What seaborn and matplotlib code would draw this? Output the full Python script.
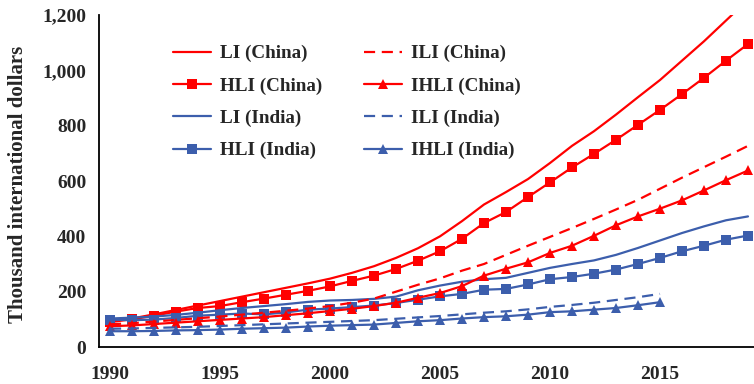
import matplotlib
matplotlib.use("Agg")
import matplotlib.pyplot as plt
import matplotlib.ticker as mticker
import seaborn as sns
import numpy as np

years = list(range(1990, 2020))
years_india_i = list(range(1990, 2016))

li_china = [95, 103, 118, 134, 150, 166, 182, 198, 214, 230, 247, 268, 292, 322, 357,
            400, 455, 515, 560, 607, 665, 727, 780, 840, 903, 965, 1035, 1105, 1180, 1255]
hli_china = [90, 100, 113, 128, 141, 148, 162, 175, 189, 203, 219, 239, 258, 282, 312,
             346, 391, 448, 488, 542, 595, 649, 698, 749, 803, 857, 914, 973, 1035, 1095]
ili_china = [82, 86, 92, 98, 104, 110, 117, 124, 131, 139, 148, 160, 175, 200, 225,
             248, 276, 300, 333, 366, 398, 430, 463, 497, 532, 572, 612, 650, 688, 727]
ihli_china = [75, 78, 83, 88, 93, 98, 103, 108, 115, 122, 130, 138, 148, 160, 178,
              195, 220, 258, 283, 306, 340, 366, 402, 440, 472, 500, 530, 566, 603, 638]

li_india = [103, 106, 110, 116, 124, 133, 141, 148, 155, 163, 168, 170, 174, 182, 205,
            222, 236, 245, 250, 268, 286, 300, 313, 333, 358, 385, 412, 436, 458, 472]
hli_india = [99, 97, 99, 105, 113, 117, 121, 118, 125, 135, 139, 144, 150, 159, 171,
             183, 192, 207, 210, 226, 245, 253, 265, 280, 300, 322, 346, 366, 388, 403]
ili_india = [66, 67, 69, 71, 73, 76, 79, 82, 85, 88, 91, 94, 97, 102, 107,
             112, 118, 124, 129, 136, 145, 152, 160, 170, 180, 192]
ihli_india = [57, 57, 58, 60, 61, 63, 66, 68, 70, 74, 77, 79, 81, 87, 93,
              97, 103, 108, 111, 117, 126, 129, 135, 141, 151, 162]

year_labels = [1990, 1995, 2000, 2005, 2010, 2015]

sns.set_style("white")
plt.rcParams["font.family"] = ["Liberation Serif", "DejaVu Serif"]
plt.rcParams["font.weight"] = "bold"

RED = "#FF0000"
BLUE = "#3C5EAC"
LW = 1.6
DASH = (0, (5, 3))

fig = plt.figure(figsize=(7.54, 3.84), dpi=100)
ax = fig.add_axes([99 / 754, 37 / 384, 660 / 754, 332 / 384])

series = [
    ("LI (China)", years, li_china, RED, None, "-"),
    ("HLI (China)", years, hli_china, RED, "s", "-"),
    ("LI (India)", years, li_india, BLUE, None, "-"),
    ("HLI (India)", years, hli_india, BLUE, "s", "-"),
    ("ILI (China)", years, ili_china, RED, None, DASH),
    ("IHLI (China)", years, ihli_china, RED, "^", "-"),
    ("ILI (India)", years_india_i, ili_india, BLUE, None, DASH),
    ("IHLI (India)", years_india_i, ihli_india, BLUE, "^", "-"),
]

for name, xs, ys, col, mk, ls in series:
    sns.lineplot(x=xs, y=ys, ax=ax, color=col, marker=mk, markersize=6.5,
                 markeredgewidth=0, linewidth=LW, linestyle=ls, label=name,
                 clip_on=True)

ax.set_xlim(1989.5, 2019.5)
ax.set_ylim(0, 1200)

# year labels sit on the categories, tick marks sit between categories
ax.set_xticks(year_labels)
ax.set_xticklabels([str(y) for y in year_labels])
ax.tick_params(axis="x", which="major", length=0, pad=14, labelsize=14)
ax.set_xticks([1994.5, 1999.5, 2004.5, 2009.5, 2014.5], minor=True)
ax.tick_params(axis="x", which="minor", direction="in", length=5.5, width=1.3, color="black")

ax.set_yticks(np.arange(0, 1201, 200))
ax.yaxis.set_major_formatter(mticker.FuncFormatter(lambda v, p: f"{int(v):,}"))
ax.tick_params(axis="y", direction="in", length=5.5, width=1.3, color="black",
               pad=9, labelsize=14)
for lab in ax.get_xticklabels() + ax.get_yticklabels():
    lab.set_fontweight("bold")

for side in ("top", "right"):
    ax.spines[side].set_visible(False)
for side in ("left", "bottom"):
    ax.spines[side].set_color("black")
    ax.spines[side].set_linewidth(1.3)

ax.set_ylabel("Thousand international dollars", fontsize=15, fontweight="bold")
ax.yaxis.set_label_coords(-0.107, 0.49)
ax.set_xlabel("")

leg = ax.legend(ncol=2, frameon=False, loc="upper left",
                bbox_to_anchor=(173 / 754, 1 - 45 / 384), bbox_transform=fig.transFigure,
                prop={"family": "Liberation Serif", "weight": "bold", "size": 13.75},
                handlelength=2.0, handletextpad=0.45, columnspacing=2.2,
                labelspacing=0.78, borderaxespad=0, borderpad=0)

fig.savefig("out.png", dpi=100)
